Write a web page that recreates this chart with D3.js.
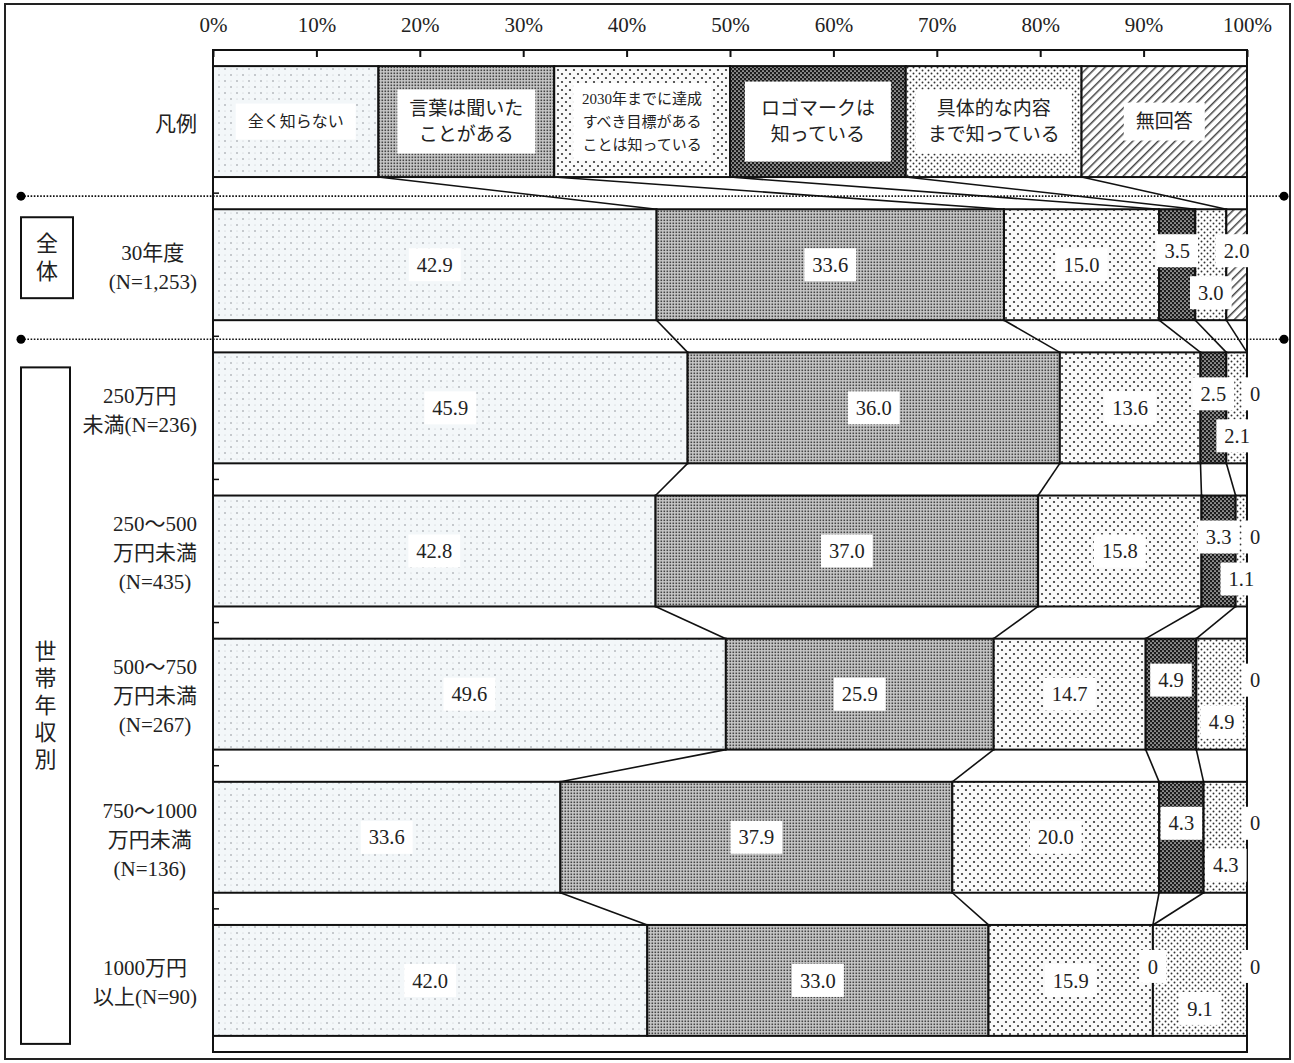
<!DOCTYPE html>
<html><head><meta charset="utf-8">
<script src="https://cdn.jsdelivr.net/npm/d3@7"></script>
<style>
body{margin:0;background:#fff;}
text{font-family:"Liberation Serif","Noto Sans CJK JP",serif;fill:#222;}
</style></head>
<body><svg id="c" width="1294" height="1063"></svg>
<script>
// ---- data ----
const categories = ["凡例","30年度","250万円未満","250～500万円未満","500～750万円未満","750～1000万円未満","1000万円以上"];
const rowLabelLines = [["凡例"],["30年度","(N=1,253)"],["250万円","未満(N=236)"],["250～500","万円未満","(N=435)"],["500～750","万円未満","(N=267)"],["750～1000","万円未満","(N=136)"],["1000万円","以上(N=90)"]];
const seriesNames = ["全く知らない","言葉は聞いたことがある","2030年までに達成すべき目標があることは知っている","ロゴマークは知っている","具体的な内容まで知っている","無回答"];
const legendLines = [["全く知らない"],["言葉は聞いた","ことがある"],["2030年までに達成","すべき目標がある","ことは知っている"],["ロゴマークは","知っている"],["具体的な内容","まで知っている"],["無回答"]];
const legendWidths = [16,17,17,17,17,16];
const s0 = [42.9,45.9,42.8,49.6,33.6,42.0];
const s1 = [33.6,36.0,37.0,25.9,37.9,33.0];
const s2 = [15.0,13.6,15.8,14.7,20.0,15.9];
const s3 = [3.5,2.5,3.3,4.9,4.3,0];
const s4 = [3.0,2.1,1.1,4.9,4.3,9.1];
const s5 = [2.0,0,0,0,0,0];
const xTicks = [0,10,20,30,40,50,60,70,80,90,100];
const groupLabels = ["全体","世帯年収別"];

// ---- setup ----
const svg = d3.select("#c");
const series = [s0,s1,s2,s3,s4,s5];
const dataRows = s0.map((_,i)=>series.map(s=>s[i]));
const rows = [legendWidths, ...dataRows];
const x = d3.scaleLinear().domain([0,100]).range([213,1247]).clamp(true);
const y = d3.scaleBand().domain(categories).range([50,1052]).paddingInner(0.225).paddingOuter(0.1125);
const bh = y.bandwidth();
const gapHalf = y.step()*0.225/2;

// patterns
const defs = svg.append("defs");
function pat(id,w,h,build){const p=defs.append("pattern").attr("id",id).attr("patternUnits","userSpaceOnUse").attr("width",w).attr("height",h);build(p);}
pat("p0",12,12,p=>{p.append("rect").attr("width",12).attr("height",12).attr("fill","#f3f7f9");
  [[3,3],[9,9]].forEach(([a,b])=>p.append("circle").attr("cx",a).attr("cy",b).attr("r",0.8).attr("fill","#8a9096"));
  [[9,3],[3,9]].forEach(([a,b])=>p.append("circle").attr("cx",a).attr("cy",b).attr("r",0.6).attr("fill","#c4c9cc"));});
pat("p1",3,3,p=>{p.append("rect").attr("width",3).attr("height",3).attr("fill","#c8c8c8");
  p.append("rect").attr("x",0.5).attr("y",0.5).attr("width",1.6).attr("height",1.6).attr("fill","#444");});
pat("p2",8,8,p=>{p.append("rect").attr("width",8).attr("height",8).attr("fill","#fafafa");
  [[2,2],[6,6]].forEach(([a,b])=>p.append("circle").attr("cx",a).attr("cy",b).attr("r",1.1).attr("fill","#333"));});
pat("p3",4,4,p=>{p.append("rect").attr("width",4).attr("height",4).attr("fill","#1c1c1c");
  [[1,1],[3,3]].forEach(([a,b])=>p.append("circle").attr("cx",a).attr("cy",b).attr("r",0.85).attr("fill","#e8e8e8"));});
pat("p4",6,6,p=>{p.append("rect").attr("width",6).attr("height",6).attr("fill","#fff");
  [[1.5,1.5],[4.5,4.5]].forEach(([a,b])=>p.append("circle").attr("cx",a).attr("cy",b).attr("r",0.95).attr("fill","#333"));});
pat("p5",6,6,p=>{p.attr("patternTransform","rotate(45)");p.append("rect").attr("width",6).attr("height",6).attr("fill","#fff");
  p.append("rect").attr("x",0).attr("y",0).attr("width",1.5).attr("height",6).attr("fill","#444");});

// outer frame
svg.append("rect").attr("x",5).attr("y",4).attr("width",1285).attr("height",1055).attr("fill","none").attr("stroke","#222").attr("stroke-width",2);

// connectors
rows.forEach((r,i)=>{
  if(i===rows.length-1) return;
  const cA=d3.cumsum(r), cB=d3.cumsum(rows[i+1]);
  const yb=y(categories[i])+bh, yt=y(categories[i+1]);
  for(let k=0;k<5;k++){
    svg.append("line").attr("x1",x(cA[k])).attr("y1",yb).attr("x2",x(cB[k])).attr("y2",yt)
      .attr("stroke","#111").attr("stroke-width",1.6);
  }
});

// bars
rows.forEach((r,i)=>{
  const c=d3.cumsum(r);
  const g=svg.append("g");
  r.forEach((v,k)=>{
    const x0=x(c[k]-v), x1=x(c[k]);
    g.append("rect").attr("x",x0).attr("y",y(categories[i])).attr("width",Math.max(0,x1-x0)).attr("height",bh)
      .attr("fill","url(#p"+k+")").attr("stroke","#111").attr("stroke-width",2);
  });
});

// plot frame
svg.append("rect").attr("x",x(0)).attr("y",50).attr("width",x(100)-x(0)).attr("height",1052-50)
  .attr("fill","none").attr("stroke","#111").attr("stroke-width",2);

// axis
const ax = svg.append("g").attr("transform","translate(0,50)")
  .call(d3.axisTop(x).tickValues(xTicks).tickSize(-7).tickPadding(18).tickFormat(d=>d+"%"));
ax.select(".domain").remove();
ax.selectAll("line").attr("stroke","#111").attr("stroke-width",2);
ax.selectAll("text").attr("font-size",21).attr("font-family","Liberation Serif").attr("fill","#222");

// left ticks at band boundaries
for(let i=1;i<categories.length;i++){
  const yy=y(categories[i])-gapHalf;
  svg.append("line").attr("x1",x(0)).attr("x2",x(0)+6).attr("y1",yy).attr("y2",yy).attr("stroke","#111").attr("stroke-width",1.5);
}

// dotted separators
[1,2].forEach(i=>{
  const yy=y(categories[i])-gapHalf+3;
  svg.append("line").attr("x1",21).attr("x2",1284).attr("y1",yy).attr("y2",yy)
    .attr("stroke","#111").attr("stroke-width",1.6).attr("stroke-dasharray","1.6,1.6");
  svg.append("circle").attr("cx",21).attr("cy",yy).attr("r",4.5).attr("fill","#000");
  svg.append("circle").attr("cx",1284).attr("cy",yy).attr("r",4.5).attr("fill","#000");
});

// text box helper
function boxLabel(cx,cy,lines,fs,lh,px,py,withBox){
  const g=svg.append("g");
  const t=g.append("text").attr("font-size",fs).attr("text-anchor","middle");
  const n=lines.length;
  lines.forEach((l,j)=>t.append("tspan").attr("x",cx).attr("y",cy+(j-(n-1)/2)*lh).attr("dy","0.35em").text(l));
  if(withBox){
    const bb=t.node().getBBox();
    g.insert("rect","text").attr("x",bb.x-px).attr("y",cy-(n*lh)/2-py).attr("width",bb.width+2*px)
      .attr("height",n*lh+2*py).attr("fill","#fff");
  }
  return t;
}

// legend labels
const legFs=[16,19,15,19,19,19], legLh=[22,26,23,26,26,22], legPy=[7,6,4,14,6,8], legPx=[12,12,9,16,12,12];
const cL=d3.cumsum(legendWidths);
legendLines.forEach((ls,k)=>{
  const cx=x(cL[k]-legendWidths[k]/2), cy=y(categories[0])+bh/2;
  boxLabel(cx,cy,ls,legFs[k],legLh[k],legPx[k],legPy[k],true);
});

// data labels
const yOff=[0,0,0,-14,28,-14];
dataRows.forEach((r,i)=>{
  const c=d3.cumsum(r);
  const cy=y(categories[i+1])+bh/2;
  r.forEach((v,k)=>{
    let cx=x(c[k]-v/2);
    if(k===5 && v===0) cx+=8;
    const txt = v===0 ? "0" : v.toFixed(1);
    boxLabel(cx,cy+yOff[k],[txt],20.5,33,8,0,true);
  });
});

// row labels
rowLabelLines.forEach((ls,i)=>{
  const cy=y(categories[i])+bh/2+2;
  const t=boxLabel(150,cy,ls,21,29,0,0,false);
  const w=t.node().getBBox().width;
  const cx=197-w/2;
  t.selectAll("tspan").attr("x",cx);
});

// group labels
function vLabel(x0,y0,w,h,chars,lh){
  svg.append("rect").attr("x",x0).attr("y",y0).attr("width",w).attr("height",h).attr("fill","#fff").attr("stroke","#111").attr("stroke-width",2);
  const cy=y0+h/2;
  const t=svg.append("text").attr("font-size",22).attr("text-anchor","middle");
  chars.forEach((ch,j)=>t.append("tspan").attr("x",x0+w/2).attr("y",cy+(j-(chars.length-1)/2)*lh).attr("dy","0.35em").text(ch));
}
const g1y0=y(categories[1])+8, g1y1=y(categories[1])+bh-22;
vLabel(21,g1y0,52,g1y1-g1y0,[...groupLabels[0]],28);
const g2y0=y(categories[2])+15, g2y1=y(categories[6])+bh+8;
vLabel(21,g2y0,49,g2y1-g2y0,[...groupLabels[1]],27);
</script></body></html>
